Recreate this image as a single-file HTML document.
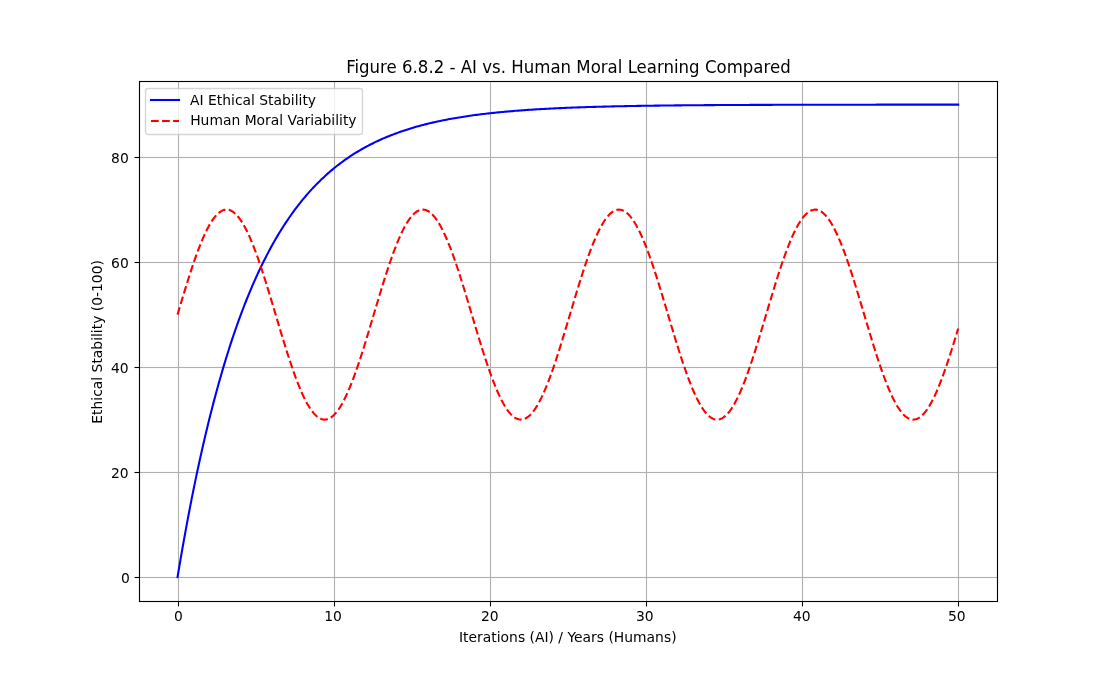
<!DOCTYPE html>
<html lang="en"><head><meta charset="utf-8"><title>Figure 6.8.2 - AI vs. Human Moral Learning Compared</title>
<style>html,body{margin:0;padding:0;background:#fff;overflow:hidden}svg{display:block}text{font-family:'DejaVu Sans','Liberation Sans',sans-serif;fill:#000}</style></head><body>
<svg width="1108" height="675" viewBox="0 0 1108 675">
<rect x="0" y="0" width="1108" height="675" fill="#fff"/>
<g stroke="#b0b0b0" stroke-width="1.111" fill="none"><line x1="178.5" y1="81.50" x2="178.5" y2="601.50"/><line x1="334.5" y1="81.50" x2="334.5" y2="601.50"/><line x1="490.5" y1="81.50" x2="490.5" y2="601.50"/><line x1="646.5" y1="81.50" x2="646.5" y2="601.50"/><line x1="802.5" y1="81.50" x2="802.5" y2="601.50"/><line x1="958.5" y1="81.50" x2="958.5" y2="601.50"/></g>
<g fill="#b0b0b0"><rect x="139.50" y="576.9445" width="858.00" height="1.1110"/><rect x="139.50" y="471.9445" width="858.00" height="1.1110"/><rect x="139.50" y="366.9445" width="858.00" height="1.1110"/><rect x="139.50" y="261.9445" width="858.00" height="1.1110"/><rect x="139.50" y="156.9445" width="858.00" height="1.1110"/></g>
<g stroke="#000" stroke-width="1.111" fill="none"><line x1="178.5" y1="601.50" x2="178.5" y2="606.50"/><line x1="334.5" y1="601.50" x2="334.5" y2="606.50"/><line x1="490.5" y1="601.50" x2="490.5" y2="606.50"/><line x1="646.5" y1="601.50" x2="646.5" y2="606.50"/><line x1="802.5" y1="601.50" x2="802.5" y2="606.50"/><line x1="958.5" y1="601.50" x2="958.5" y2="606.50"/><line x1="134.50" y1="577.5" x2="139.50" y2="577.5"/><line x1="134.50" y1="472.5" x2="139.50" y2="472.5"/><line x1="134.50" y1="367.5" x2="139.50" y2="367.5"/><line x1="134.50" y1="262.5" x2="139.50" y2="262.5"/><line x1="134.50" y1="157.5" x2="139.50" y2="157.5"/></g>
<g font-size="13.889px" text-anchor="middle">
<text x="178.48" y="621.11">0</text>
<text x="333.10" y="621.07">10</text>
<text x="489.84" y="621.07">20</text>
<text x="644.88" y="621.06">30</text>
<text x="801.81" y="621.04">40</text>
<text x="956.83" y="621.12">50</text>
<text x="567.80" y="642.05">Iterations (AI) / Years (Humans)</text>
</g><g font-size="13.889px" text-anchor="end">
<text x="129.73" y="583.48">0</text>
<text x="128.70" y="478.44">20</text>
<text x="128.66" y="373.40">40</text>
<text x="128.76" y="268.49">60</text>
<text x="128.78" y="163.45">80</text>
</g>
<text font-size="13.889px" text-anchor="middle" transform="translate(101.68 341.88) rotate(-90)">Ethical Stability (0-100)</text>
<text font-size="16.667px" text-anchor="middle" transform="translate(568.40 72.68) scale(0.9950 1.0700)">Figure 6.8.2 - AI vs. Human Moral Learning Compared</text>
<clipPath id="c"><rect x="138.50" y="81.00" width="858.70" height="519.75"/></clipPath>
<g clip-path="url(#c)" fill="none" stroke-linejoin="round">
<path d="M177.53 577.12 L179.10 567.75 L180.66 558.56 L182.23 549.55 L183.79 540.73 L185.35 532.07 L186.92 523.59 L188.48 515.28 L190.05 507.13 L191.61 499.14 L193.18 491.32 L194.74 483.64 L196.30 476.12 L197.87 468.75 L199.43 461.53 L201.00 454.45 L202.56 447.50 L204.13 440.70 L205.69 434.03 L207.26 427.50 L208.82 421.09 L210.38 414.81 L211.95 408.66 L213.51 402.62 L215.08 396.71 L216.64 390.92 L218.21 385.23 L219.77 379.67 L221.34 374.21 L222.90 368.86 L224.46 363.62 L226.03 358.48 L227.59 353.44 L229.16 348.50 L230.72 343.66 L232.29 338.92 L233.85 334.27 L235.41 329.72 L236.98 325.25 L238.54 320.87 L240.11 316.58 L241.67 312.38 L243.24 308.25 L244.80 304.21 L246.37 300.25 L247.93 296.37 L249.49 292.57 L251.06 288.84 L252.62 285.18 L254.19 281.60 L255.75 278.09 L257.32 274.64 L258.88 271.27 L260.45 267.96 L262.01 264.72 L263.57 261.55 L265.14 258.43 L266.70 255.38 L268.27 252.39 L269.83 249.46 L271.40 246.58 L272.96 243.77 L274.52 241.00 L276.09 238.30 L277.65 235.65 L279.22 233.05 L280.78 230.50 L282.35 228.00 L283.91 225.55 L285.48 223.15 L287.04 220.80 L288.60 218.49 L290.17 216.23 L291.73 214.02 L293.30 211.85 L294.86 209.72 L296.43 207.64 L297.99 205.59 L299.56 203.59 L301.12 201.62 L302.68 199.70 L304.25 197.81 L305.81 195.96 L307.38 194.15 L308.94 192.37 L310.51 190.63 L312.07 188.92 L313.63 187.25 L315.20 185.61 L316.76 184.00 L318.33 182.43 L319.89 180.89 L321.46 179.37 L323.02 177.89 L324.59 176.43 L326.15 175.01 L327.71 173.61 L329.28 172.24 L330.84 170.90 L332.41 169.59 L333.97 168.30 L335.54 167.03 L337.10 165.79 L338.67 164.58 L340.23 163.39 L341.79 162.22 L343.36 161.08 L344.92 159.96 L346.49 158.86 L348.05 157.79 L349.62 156.73 L351.18 155.70 L352.74 154.68 L354.31 153.69 L355.87 152.71 L357.44 151.76 L359.00 150.82 L360.57 149.91 L362.13 149.01 L363.70 148.13 L365.26 147.26 L366.82 146.42 L368.39 145.59 L369.95 144.77 L371.52 143.98 L373.08 143.20 L374.65 142.43 L376.21 141.68 L377.78 140.94 L379.34 140.22 L380.90 139.52 L382.47 138.82 L384.03 138.15 L385.60 137.48 L387.16 136.83 L388.73 136.19 L390.29 135.56 L391.85 134.95 L393.42 134.35 L394.98 133.76 L396.55 133.18 L398.11 132.61 L399.68 132.05 L401.24 131.51 L402.81 130.98 L404.37 130.45 L405.93 129.94 L407.50 129.44 L409.06 128.94 L410.63 128.46 L412.19 127.99 L413.76 127.52 L415.32 127.07 L416.89 126.62 L418.45 126.19 L420.01 125.76 L421.58 125.34 L423.14 124.93 L424.71 124.52 L426.27 124.13 L427.84 123.74 L429.40 123.36 L430.96 122.99 L432.53 122.62 L434.09 122.27 L435.66 121.92 L437.22 121.57 L438.79 121.24 L440.35 120.91 L441.92 120.58 L443.48 120.27 L445.04 119.96 L446.61 119.65 L448.17 119.35 L449.74 119.06 L451.30 118.77 L452.87 118.49 L454.43 118.22 L456.00 117.95 L457.56 117.68 L459.12 117.42 L460.69 117.17 L462.25 116.92 L463.82 116.67 L465.38 116.43 L466.95 116.20 L468.51 115.97 L470.07 115.74 L471.64 115.52 L473.20 115.31 L474.77 115.09 L476.33 114.89 L477.90 114.68 L479.46 114.48 L481.03 114.29 L482.59 114.09 L484.15 113.91 L485.72 113.72 L487.28 113.54 L488.85 113.36 L490.41 113.19 L491.98 113.02 L493.54 112.85 L495.11 112.69 L496.67 112.53 L498.23 112.37 L499.80 112.22 L501.36 112.07 L502.93 111.92 L504.49 111.77 L506.06 111.63 L507.62 111.49 L509.18 111.35 L510.75 111.22 L512.31 111.09 L513.88 110.96 L515.44 110.83 L517.01 110.71 L518.57 110.59 L520.14 110.47 L521.70 110.35 L523.26 110.24 L524.83 110.13 L526.39 110.02 L527.96 109.91 L529.52 109.81 L531.09 109.70 L532.65 109.60 L534.22 109.50 L535.78 109.40 L537.34 109.31 L538.91 109.22 L540.47 109.12 L542.04 109.04 L543.60 108.95 L545.17 108.86 L546.73 108.78 L548.29 108.69 L549.86 108.61 L551.42 108.53 L552.99 108.46 L554.55 108.38 L556.12 108.30 L557.68 108.23 L559.25 108.16 L560.81 108.09 L562.37 108.02 L563.94 107.95 L565.50 107.88 L567.07 107.82 L568.63 107.76 L570.20 107.69 L571.76 107.63 L573.33 107.57 L574.89 107.51 L576.45 107.46 L578.02 107.40 L579.58 107.34 L581.15 107.29 L582.71 107.24 L584.28 107.18 L585.84 107.13 L587.41 107.08 L588.97 107.03 L590.53 106.98 L592.10 106.94 L593.66 106.89 L595.23 106.85 L596.79 106.80 L598.36 106.76 L599.92 106.71 L601.48 106.67 L603.05 106.63 L604.61 106.59 L606.18 106.55 L607.74 106.51 L609.31 106.48 L610.87 106.44 L612.44 106.40 L614.00 106.37 L615.56 106.33 L617.13 106.30 L618.69 106.26 L620.26 106.23 L621.82 106.20 L623.39 106.17 L624.95 106.14 L626.52 106.11 L628.08 106.08 L629.64 106.05 L631.21 106.02 L632.77 105.99 L634.34 105.96 L635.90 105.94 L637.47 105.91 L639.03 105.88 L640.59 105.86 L642.16 105.83 L643.72 105.81 L645.29 105.78 L646.85 105.76 L648.42 105.74 L649.98 105.72 L651.55 105.69 L653.11 105.67 L654.67 105.65 L656.24 105.63 L657.80 105.61 L659.37 105.59 L660.93 105.57 L662.50 105.55 L664.06 105.53 L665.63 105.51 L667.19 105.50 L668.75 105.48 L670.32 105.46 L671.88 105.44 L673.45 105.43 L675.01 105.41 L676.58 105.39 L678.14 105.38 L679.70 105.36 L681.27 105.35 L682.83 105.33 L684.40 105.32 L685.96 105.30 L687.53 105.29 L689.09 105.28 L690.66 105.26 L692.22 105.25 L693.78 105.24 L695.35 105.23 L696.91 105.21 L698.48 105.20 L700.04 105.19 L701.61 105.18 L703.17 105.17 L704.74 105.15 L706.30 105.14 L707.86 105.13 L709.43 105.12 L710.99 105.11 L712.56 105.10 L714.12 105.09 L715.69 105.08 L717.25 105.07 L718.81 105.06 L720.38 105.05 L721.94 105.05 L723.51 105.04 L725.07 105.03 L726.64 105.02 L728.20 105.01 L729.77 105.00 L731.33 105.00 L732.89 104.99 L734.46 104.98 L736.02 104.97 L737.59 104.97 L739.15 104.96 L740.72 104.95 L742.28 104.94 L743.85 104.94 L745.41 104.93 L746.97 104.92 L748.54 104.92 L750.10 104.91 L751.67 104.91 L753.23 104.90 L754.80 104.89 L756.36 104.89 L757.92 104.88 L759.49 104.88 L761.05 104.87 L762.62 104.87 L764.18 104.86 L765.75 104.86 L767.31 104.85 L768.88 104.85 L770.44 104.84 L772.00 104.84 L773.57 104.83 L775.13 104.83 L776.70 104.82 L778.26 104.82 L779.83 104.81 L781.39 104.81 L782.96 104.81 L784.52 104.80 L786.08 104.80 L787.65 104.79 L789.21 104.79 L790.78 104.79 L792.34 104.78 L793.91 104.78 L795.47 104.78 L797.03 104.77 L798.60 104.77 L800.16 104.77 L801.73 104.76 L803.29 104.76 L804.86 104.76 L806.42 104.75 L807.99 104.75 L809.55 104.75 L811.11 104.74 L812.68 104.74 L814.24 104.74 L815.81 104.74 L817.37 104.73 L818.94 104.73 L820.50 104.73 L822.07 104.73 L823.63 104.72 L825.19 104.72 L826.76 104.72 L828.32 104.72 L829.89 104.71 L831.45 104.71 L833.02 104.71 L834.58 104.71 L836.14 104.71 L837.71 104.70 L839.27 104.70 L840.84 104.70 L842.40 104.70 L843.97 104.70 L845.53 104.69 L847.10 104.69 L848.66 104.69 L850.22 104.69 L851.79 104.69 L853.35 104.69 L854.92 104.68 L856.48 104.68 L858.05 104.68 L859.61 104.68 L861.18 104.68 L862.74 104.68 L864.30 104.67 L865.87 104.67 L867.43 104.67 L869.00 104.67 L870.56 104.67 L872.13 104.67 L873.69 104.67 L875.25 104.67 L876.82 104.66 L878.38 104.66 L879.95 104.66 L881.51 104.66 L883.08 104.66 L884.64 104.66 L886.21 104.66 L887.77 104.66 L889.33 104.66 L890.90 104.65 L892.46 104.65 L894.03 104.65 L895.59 104.65 L897.16 104.65 L898.72 104.65 L900.29 104.65 L901.85 104.65 L903.41 104.65 L904.98 104.65 L906.54 104.65 L908.11 104.64 L909.67 104.64 L911.24 104.64 L912.80 104.64 L914.36 104.64 L915.93 104.64 L917.49 104.64 L919.06 104.64 L920.62 104.64 L922.19 104.64 L923.75 104.64 L925.32 104.64 L926.88 104.64 L928.44 104.63 L930.01 104.63 L931.57 104.63 L933.14 104.63 L934.70 104.63 L936.27 104.63 L937.83 104.63 L939.40 104.63 L940.96 104.63 L942.52 104.63 L944.09 104.63 L945.65 104.63 L947.22 104.63 L948.78 104.63 L950.35 104.63 L951.91 104.63 L953.47 104.63 L955.04 104.63 L956.60 104.63 L958.17 104.62" stroke="#0000ff" stroke-width="2.083" stroke-linecap="square"/>
<path d="M177.53 314.61 L179.10 309.35 L180.66 304.11 L182.23 298.89 L183.79 293.71 L185.35 288.58 L186.92 283.52 L188.48 278.54 L190.05 273.64 L191.61 268.85 L193.18 264.18 L194.74 259.63 L196.30 255.22 L197.87 250.96 L199.43 246.85 L201.00 242.92 L202.56 239.17 L204.13 235.61 L205.69 232.24 L207.26 229.08 L208.82 226.14 L210.38 223.42 L211.95 220.93 L213.51 218.67 L215.08 216.65 L216.64 214.88 L218.21 213.36 L219.77 212.10 L221.34 211.09 L222.90 210.34 L224.46 209.85 L226.03 209.62 L227.59 209.66 L229.16 209.97 L230.72 210.53 L232.29 211.36 L233.85 212.44 L235.41 213.78 L236.98 215.38 L238.54 217.22 L240.11 219.31 L241.67 221.64 L243.24 224.20 L244.80 226.98 L246.37 229.99 L247.93 233.21 L249.49 236.63 L251.06 240.25 L252.62 244.06 L254.19 248.04 L255.75 252.19 L257.32 256.50 L258.88 260.95 L260.45 265.54 L262.01 270.25 L263.57 275.07 L265.14 279.99 L266.70 285.00 L268.27 290.08 L269.83 295.23 L271.40 300.42 L272.96 305.65 L274.52 310.90 L276.09 316.16 L277.65 321.41 L279.22 326.65 L280.78 331.86 L282.35 337.03 L283.91 342.14 L285.48 347.18 L287.04 352.14 L288.60 357.00 L290.17 361.76 L291.73 366.40 L293.30 370.91 L294.86 375.28 L296.43 379.49 L297.99 383.55 L299.56 387.43 L301.12 391.12 L302.68 394.63 L304.25 397.93 L305.81 401.03 L307.38 403.91 L308.94 406.56 L310.51 408.99 L312.07 411.17 L313.63 413.12 L315.20 414.82 L316.76 416.26 L318.33 417.45 L319.89 418.39 L321.46 419.06 L323.02 419.47 L324.59 419.62 L326.15 419.50 L327.71 419.12 L329.28 418.48 L330.84 417.58 L332.41 416.42 L333.97 415.00 L335.54 413.33 L337.10 411.42 L338.67 409.26 L340.23 406.86 L341.79 404.23 L343.36 401.38 L344.92 398.31 L346.49 395.03 L348.05 391.55 L349.62 387.87 L351.18 384.01 L352.74 379.98 L354.31 375.78 L355.87 371.43 L357.44 366.94 L359.00 362.31 L360.57 357.57 L362.13 352.72 L363.70 347.77 L365.26 342.74 L366.82 337.64 L368.39 332.48 L369.95 327.27 L371.52 322.04 L373.08 316.78 L374.65 311.52 L376.21 306.27 L377.78 301.04 L379.34 295.84 L380.90 290.69 L382.47 285.60 L384.03 280.58 L385.60 275.65 L387.16 270.82 L388.73 266.09 L390.29 261.49 L391.85 257.02 L393.42 252.70 L394.98 248.53 L396.55 244.52 L398.11 240.70 L399.68 237.05 L401.24 233.61 L402.81 230.36 L404.37 227.33 L405.93 224.51 L407.50 221.93 L409.06 219.57 L410.63 217.46 L412.19 215.58 L413.76 213.96 L415.32 212.59 L416.89 211.47 L418.45 210.61 L420.01 210.02 L421.58 209.69 L423.14 209.62 L424.71 209.81 L426.27 210.27 L427.84 210.98 L429.40 211.96 L430.96 213.20 L432.53 214.69 L434.09 216.43 L435.66 218.42 L437.22 220.65 L438.79 223.11 L440.35 225.81 L441.92 228.72 L443.48 231.86 L445.04 235.20 L446.61 238.74 L448.17 242.47 L449.74 246.38 L451.30 250.46 L452.87 254.71 L454.43 259.10 L456.00 263.63 L457.56 268.29 L459.12 273.07 L460.69 277.95 L462.25 282.93 L463.82 287.98 L465.38 293.10 L466.95 298.27 L468.51 303.49 L470.07 308.73 L471.64 313.99 L473.20 319.25 L474.77 324.50 L476.33 329.72 L477.90 334.90 L479.46 340.04 L481.03 345.11 L482.59 350.10 L484.15 355.01 L485.72 359.81 L487.28 364.50 L488.85 369.06 L490.41 373.49 L491.98 377.77 L493.54 381.89 L495.11 385.85 L496.67 389.62 L498.23 393.21 L499.80 396.60 L501.36 399.78 L502.93 402.75 L504.49 405.50 L506.06 408.02 L507.62 410.30 L509.18 412.35 L510.75 414.15 L512.31 415.70 L513.88 416.99 L515.44 418.03 L517.01 418.81 L518.57 419.33 L520.14 419.59 L521.70 419.58 L523.26 419.31 L524.83 418.78 L526.39 417.98 L527.96 416.93 L529.52 415.62 L531.09 414.05 L532.65 412.24 L534.22 410.18 L535.78 407.88 L537.34 405.35 L538.91 402.59 L540.47 399.60 L542.04 396.41 L543.60 393.01 L545.17 389.41 L546.73 385.63 L548.29 381.66 L549.86 377.53 L551.42 373.24 L552.99 368.81 L554.55 364.24 L556.12 359.54 L557.68 354.73 L559.25 349.82 L560.81 344.82 L562.37 339.75 L563.94 334.61 L565.50 329.42 L567.07 324.20 L568.63 318.95 L570.20 313.69 L571.76 308.43 L573.33 303.19 L574.89 297.98 L576.45 292.81 L578.02 287.69 L579.58 282.64 L581.15 277.67 L582.71 272.80 L584.28 268.03 L585.84 263.37 L587.41 258.85 L588.97 254.46 L590.53 250.23 L592.10 246.15 L593.66 242.25 L595.23 238.53 L596.79 235.00 L598.36 231.67 L599.92 228.55 L601.48 225.65 L603.05 222.97 L604.61 220.51 L606.18 218.30 L607.74 216.33 L609.31 214.60 L610.87 213.12 L612.44 211.90 L614.00 210.94 L615.56 210.23 L617.13 209.79 L618.69 209.61 L620.26 209.70 L621.82 210.05 L623.39 210.66 L624.95 211.53 L626.52 212.66 L628.08 214.04 L629.64 215.68 L631.21 217.57 L632.77 219.70 L634.34 222.07 L635.90 224.67 L637.47 227.49 L639.03 230.54 L640.59 233.80 L642.16 237.25 L643.72 240.91 L645.29 244.74 L646.85 248.76 L648.42 252.94 L649.98 257.27 L651.55 261.75 L653.11 266.36 L654.67 271.09 L656.24 275.93 L657.80 280.87 L659.37 285.89 L660.93 290.98 L662.50 296.13 L664.06 301.33 L665.63 306.57 L667.19 311.82 L668.75 317.08 L670.32 322.33 L671.88 327.57 L673.45 332.77 L675.01 337.93 L676.58 343.03 L678.14 348.05 L679.70 353.00 L681.27 357.84 L682.83 362.58 L684.40 367.20 L685.96 371.68 L687.53 376.03 L689.09 380.21 L690.66 384.24 L692.22 388.09 L693.78 391.75 L695.35 395.22 L696.91 398.49 L698.48 401.55 L700.04 404.39 L701.61 407.00 L703.17 409.39 L704.74 411.53 L706.30 413.43 L707.86 415.09 L709.43 416.49 L710.99 417.64 L712.56 418.52 L714.12 419.15 L715.69 419.51 L717.25 419.62 L718.81 419.45 L720.38 419.03 L721.94 418.34 L723.51 417.39 L725.07 416.19 L726.64 414.73 L728.20 413.02 L729.77 411.06 L731.33 408.86 L732.89 406.42 L734.46 403.75 L736.02 400.86 L737.59 397.75 L739.15 394.44 L740.72 390.92 L742.28 387.21 L743.85 383.32 L745.41 379.26 L746.97 375.03 L748.54 370.66 L750.10 366.14 L751.67 361.49 L753.23 356.73 L754.80 351.86 L756.36 346.89 L757.92 341.85 L759.49 336.74 L761.05 331.57 L762.62 326.36 L764.18 321.12 L765.75 315.86 L767.31 310.60 L768.88 305.35 L770.44 300.12 L772.00 294.93 L773.57 289.79 L775.13 284.72 L776.70 279.71 L778.26 274.80 L779.83 269.98 L781.39 265.28 L782.96 260.70 L784.52 256.25 L786.08 251.95 L787.65 247.81 L789.21 243.84 L790.78 240.04 L792.34 236.43 L793.91 233.02 L795.47 229.81 L797.03 226.82 L798.60 224.04 L800.16 221.50 L801.73 219.18 L803.29 217.11 L804.86 215.28 L806.42 213.70 L807.99 212.37 L809.55 211.30 L811.11 210.49 L812.68 209.94 L814.24 209.65 L815.81 209.63 L817.37 209.87 L818.94 210.37 L820.50 211.14 L822.07 212.16 L823.63 213.44 L825.19 214.98 L826.76 216.76 L828.32 218.79 L829.89 221.06 L831.45 223.57 L833.02 226.30 L834.58 229.26 L836.14 232.43 L837.71 235.80 L839.27 239.38 L840.84 243.14 L842.40 247.08 L843.97 251.19 L845.53 255.46 L847.10 259.88 L848.66 264.44 L850.22 269.12 L851.79 273.92 L853.35 278.82 L854.92 283.81 L856.48 288.87 L858.05 294.00 L859.61 299.19 L861.18 304.41 L862.74 309.65 L864.30 314.91 L865.87 320.17 L867.43 325.41 L869.00 330.63 L870.56 335.81 L872.13 340.93 L873.69 345.99 L875.25 350.97 L876.82 355.86 L878.38 360.64 L879.95 365.31 L881.51 369.85 L883.08 374.25 L884.64 378.51 L886.21 382.60 L887.77 386.52 L889.33 390.26 L890.90 393.82 L892.46 397.17 L894.03 400.31 L895.59 403.25 L897.16 405.95 L898.72 408.43 L900.29 410.68 L901.85 412.68 L903.41 414.44 L904.98 415.94 L906.54 417.19 L908.11 418.19 L909.67 418.92 L911.24 419.40 L912.80 419.61 L914.36 419.55 L915.93 419.24 L917.49 418.66 L919.06 417.82 L920.62 416.72 L922.19 415.36 L923.75 413.75 L925.32 411.89 L926.88 409.79 L928.44 407.45 L930.01 404.88 L931.57 402.08 L933.14 399.06 L934.70 395.83 L936.27 392.39 L937.83 388.76 L939.40 384.95 L940.96 380.95 L942.52 376.79 L944.09 372.48 L945.65 368.02 L947.22 363.42 L948.78 358.71 L950.35 353.88 L951.91 348.95 L953.47 343.94 L955.04 338.85 L956.60 333.71 L958.17 328.51" stroke="#ff0000" stroke-width="2.083" stroke-dasharray="7.708 3.333"/>
</g>
<rect x="139.5" y="81.5" width="858.0" height="520.0" fill="none" stroke="#000" stroke-width="1.111"/>
<rect x="145.5" y="88.5" width="217" height="46" rx="2.78" fill="#fff" stroke="#ccc" opacity="0.8" stroke-width="1.389"/>
<path d="M151 100H179" stroke="#0000ff" stroke-width="2.083" stroke-linecap="square" fill="none"/>
<g fill="#ff0000"><rect x="151.000" y="119.9585" width="7.708" height="2.0830"/><rect x="162.042" y="119.9585" width="7.708" height="2.0830"/><rect x="173.083" y="119.9585" width="5.917" height="2.0830"/></g>
<g font-size="13.889px">
<text x="190.05" y="105.09">AI Ethical Stability</text>
<text x="190.20" y="125.48">Human Moral Variability</text>
</g></svg></body></html>
